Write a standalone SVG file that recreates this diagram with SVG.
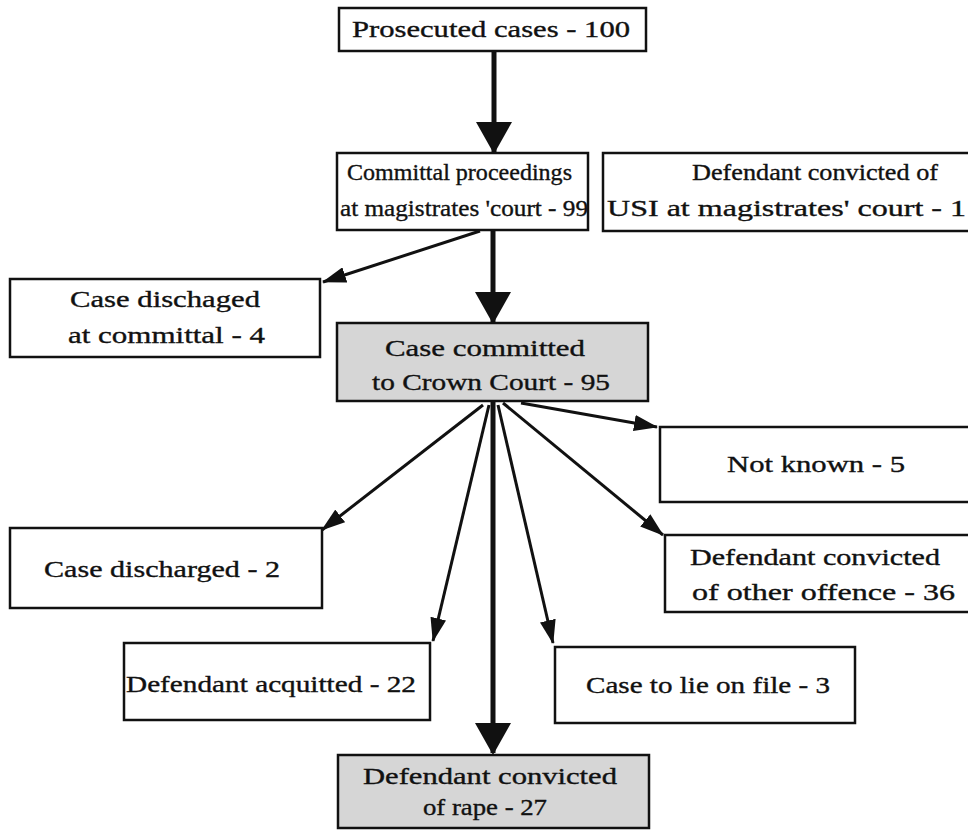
<svg xmlns="http://www.w3.org/2000/svg" width="968" height="830" viewBox="0 0 968 830">
<style>
.box{fill:#ffffff;stroke:#111;stroke-width:2.5}
.grey{fill:#d6d6d6;stroke:#111;stroke-width:2.5}
text{font-family:"Liberation Serif","Times New Roman",serif;font-size:23px;fill:#111;stroke:#111;stroke-width:0.35}
.thick{stroke:#111;stroke-width:5;fill:none}
.thin{stroke:#111;stroke-width:3;fill:none}
</style>
<defs>
<marker id="headBig" markerUnits="userSpaceOnUse" viewBox="0 0 32 36" markerWidth="32" markerHeight="36" refX="30" refY="18" orient="auto">
<path d="M0,0 L32,18 L0,36 z" fill="#111"/>
</marker>
<marker id="headSmall" markerUnits="userSpaceOnUse" viewBox="0 0 24 16" markerWidth="24" markerHeight="16" refX="23" refY="8" orient="auto">
<path d="M0,0 L24,8 L0,16 z" fill="#111"/>
</marker>
</defs>
<rect width="968" height="830" fill="#ffffff"/>
<g id="connectors">
<line class="thick" x1="494" y1="51" x2="494" y2="152" marker-end="url(#headBig)"/>
<line class="thick" x1="493" y1="230" x2="493" y2="322" marker-end="url(#headBig)"/>
<line class="thin" x1="480" y1="231" x2="323" y2="282" marker-end="url(#headSmall)"/>
<line class="thin" x1="521" y1="403" x2="657" y2="427" marker-end="url(#headSmall)"/>
<line class="thin" x1="503" y1="403" x2="663" y2="535" marker-end="url(#headSmall)"/>
<line class="thin" x1="483" y1="405" x2="322" y2="530" marker-end="url(#headSmall)"/>
<line class="thin" x1="489" y1="405" x2="433" y2="641" marker-end="url(#headSmall)"/>
<line class="thin" x1="498" y1="405" x2="553" y2="643" marker-end="url(#headSmall)"/>
<line class="thick" x1="493" y1="401" x2="493" y2="753" marker-end="url(#headBig)"/>
</g>
<g id="prosecuted">
<rect class="box" x="339" y="8" width="307" height="43"/>
<text x="352" y="37" textLength="278" lengthAdjust="spacingAndGlyphs">Prosecuted cases - 100</text>
</g>
<g id="committal">
<rect class="box" x="337" y="153" width="251" height="77"/>
<text x="347" y="180" textLength="225" lengthAdjust="spacingAndGlyphs">Committal proceedings</text>
<text x="340" y="216" textLength="248" lengthAdjust="spacingAndGlyphs">at magistrates 'court - 99</text>
</g>
<g id="usi">
<rect class="box" x="603" y="153" width="372" height="78"/>
<text x="692" y="180" textLength="246" lengthAdjust="spacingAndGlyphs">Defendant convicted of</text>
<text x="607" y="216" textLength="359" lengthAdjust="spacingAndGlyphs">USI at magistrates' court - 1</text>
</g>
<g id="discharged-committal">
<rect class="box" x="10" y="279" width="310" height="78"/>
<text x="70" y="307" textLength="190" lengthAdjust="spacingAndGlyphs">Case dischaged</text>
<text x="68" y="343" textLength="197" lengthAdjust="spacingAndGlyphs">at committal - 4</text>
</g>
<g id="crown-court">
<rect class="grey" x="337" y="323" width="311" height="78"/>
<text x="385" y="356" textLength="200" lengthAdjust="spacingAndGlyphs">Case committed</text>
<text x="372" y="390" textLength="238" lengthAdjust="spacingAndGlyphs">to Crown Court - 95</text>
</g>
<g id="not-known">
<rect class="box" x="660" y="427" width="315" height="75"/>
<text x="727" y="472" textLength="178" lengthAdjust="spacingAndGlyphs">Not known - 5</text>
</g>
<g id="other-offence">
<rect class="box" x="665" y="535" width="310" height="77"/>
<text x="690" y="565" textLength="250" lengthAdjust="spacingAndGlyphs">Defendant convicted</text>
<text x="692" y="600" textLength="263" lengthAdjust="spacingAndGlyphs">of other offence - 36</text>
</g>
<g id="case-discharged">
<rect class="box" x="10" y="528" width="312" height="80"/>
<text x="44" y="577" textLength="236" lengthAdjust="spacingAndGlyphs">Case discharged - 2</text>
</g>
<g id="acquitted">
<rect class="box" x="124" y="643" width="306" height="77"/>
<text x="126" y="692" textLength="290" lengthAdjust="spacingAndGlyphs">Defendant acquitted - 22</text>
</g>
<g id="lie-on-file">
<rect class="box" x="555" y="647" width="300" height="76"/>
<text x="586" y="693" textLength="244" lengthAdjust="spacingAndGlyphs">Case to lie on file - 3</text>
</g>
<g id="convicted-rape">
<rect class="grey" x="338" y="755" width="311" height="73"/>
<text x="363" y="784" textLength="254" lengthAdjust="spacingAndGlyphs">Defendant convicted</text>
<text x="423" y="815" textLength="124" lengthAdjust="spacingAndGlyphs">of rape - 27</text>
</g>
</svg>
